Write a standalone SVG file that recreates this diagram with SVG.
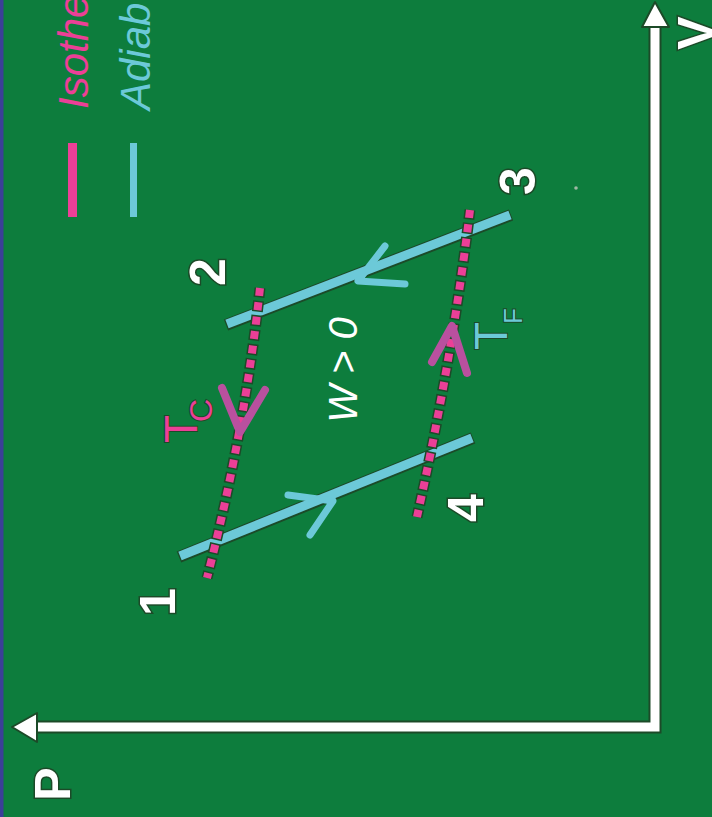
<svg xmlns="http://www.w3.org/2000/svg" width="712" height="817" viewBox="0 0 712 817">
<style>
.bg{fill:#0d7d3d}
.ax{fill:none;stroke:#fff;stroke-width:9}
.axo{fill:none;stroke:#1c4a28;stroke-width:13}
.ah{fill:#fff;stroke:#1c4a28;stroke-width:2;stroke-linejoin:round}
.adO{fill:none;stroke:#1c4a28;stroke-width:12;stroke-linecap:butt}
.ad{fill:none;stroke:#6cc9d8;stroke-width:9;stroke-linecap:butt}
.isO{fill:none;stroke:#1c4a28;stroke-width:11;stroke-dasharray:11 3.5;stroke-dashoffset:1.5}
.is{fill:none;stroke:#ec3f97;stroke-width:8;stroke-dasharray:8 6.5}
.chC{fill:none;stroke:#6cc9d8;stroke-width:7;stroke-linecap:round;stroke-linejoin:round}
.chP{fill:none;stroke:#b9509f;stroke-width:8;stroke-linecap:round;stroke-linejoin:round}
.num{font-family:"Liberation Sans",Arial,sans-serif;font-weight:bold;font-size:50px;fill:#fff;stroke:#1c4a28;stroke-width:3;paint-order:stroke;text-anchor:middle}
.lbl{font-family:"Liberation Sans",Arial,sans-serif;stroke:#1c4a28;stroke-width:2;paint-order:stroke}
.leg{font-family:"Liberation Sans",Arial,sans-serif;font-style:italic;font-size:42px}
</style>
<rect class="bg" x="0" y="0" width="712" height="817"/>
<rect x="0" y="0" width="3.5" height="817" fill="#3b3f98"/>

<g id="axes">
  <path class="axo" d="M655,25 L655,727 L37,727"/>
  <path class="ax" d="M655,25 L655,727 L37,727"/>
  <polygon class="ah" points="655,2 642,27 669,27"/>
  <polygon class="ah" points="12,727 37,713 37,742"/>
  <text class="num" transform="translate(713,33) rotate(-90)">V</text>
  <text class="num" transform="translate(70,784) rotate(-90)">P</text>
</g>

<g id="legend">
  <rect x="68" y="143" width="9" height="74" fill="#ec3f97"/>
  <rect x="130" y="143" width="7" height="74" fill="#6cc9d8"/>
  <text class="leg" fill="#ec3f97" transform="translate(88,109) rotate(-90)">Isothe</text>
  <text class="leg" fill="#6cc9d8" transform="translate(150,110) rotate(-90)">Adiab</text>
</g>

<g id="connectors">
  <path class="adO" d="M226,325 L511,215"/>
  <path class="adO" d="M179,557 L473,438"/>
  <path class="ad" d="M227,324 L510,215"/>
  <path class="ad" d="M180,556 L472,438"/>
  <path class="isO" d="M260,288 Q245,430 207,578"/>
  <path class="is" d="M260,288 Q245,430 207,578"/>
  <path class="isO" d="M470,210 Q452,360 417,517"/>
  <path class="is" d="M470,210 Q452,360 417,517"/>
  <path class="chC" d="M385,246 L358,281 L405,284"/>
  <path class="chC" d="M288,495 L333,501 L310,535"/>
  <path class="chP" d="M222,388 L240,432 L265,390"/>
  <path class="chP" d="M432,362 L452,326 L467,373"/>
</g>

<g id="state1"><text class="num" transform="translate(175,602) rotate(-90)">1</text></g>
<g id="state2"><text class="num" transform="translate(225,272) rotate(-90)">2</text></g>
<g id="state3"><text class="num" transform="translate(535,181) rotate(-90)">3</text></g>
<g id="state4"><text class="num" transform="translate(483,508) rotate(-90)">4</text></g>

<g id="label-tc">
  <text class="lbl" fill="#ec3f97" font-size="46" transform="translate(197,443) rotate(-90)">T</text>
  <text class="lbl" fill="#ec3f97" font-size="32" transform="translate(212,422) rotate(-90)">C</text>
</g>
<g id="label-tf">
  <text class="lbl" fill="#6cc9d8" font-size="46" transform="translate(507,350) rotate(-90)">T</text>
  <text class="lbl" fill="#6cc9d8" font-size="26" transform="translate(522,324) rotate(-90)">F</text>
</g>
<g id="label-work">
  <text font-family="Liberation Sans, Arial, sans-serif" font-style="italic" font-size="40" fill="#fff" text-anchor="middle" transform="translate(357,370) rotate(-90)">W &gt; 0</text>
</g>
<circle cx="576" cy="188" r="1.8" fill="#9fb8a4"/>
</svg>
